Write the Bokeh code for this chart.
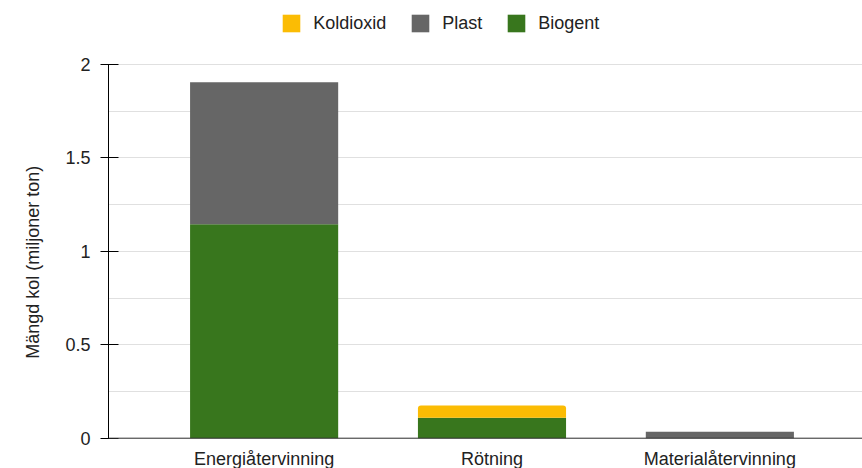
from bokeh.plotting import figure
from bokeh.models import (ColumnDataSource, SingleIntervalTicker, Legend,
                          LegendItem, Range1d, Span, Title)
from bokeh.core.properties import value
from bokeh.embed import file_html
from bokeh.resources import INLINE

# Carbon quantity per treatment route (million tonnes)
categories = ["Energiåtervinning", "Rötning", "Materialåtervinning"]
biogent = [1.145, 0.11, 0.0]
plast = [0.76, 0.0, 0.035]
koldioxid = [0.0, 0.065, 0.0]

FONT = "Liberation Sans"
TEXT = "#222222"
C_BIO = "#38761d"
C_PLAST = "#666666"
C_CO2 = "#fbbc04"

xs = list(range(len(categories)))
b0 = [0.0] * len(xs)
b1 = [b + p for b, p in zip(biogent, plast)]
b2 = [t + k for t, k in zip(b1, koldioxid)]

src = ColumnDataSource(dict(x=xs, bio_top=biogent, pl_bot=biogent, pl_top=b1,
                            co_bot=b1, co_top=b2, base=b0, name=categories))

p = figure(width=862, height=468, output_backend="svg", toolbar_location=None,
           x_range=Range1d(-0.683, 2.626), y_range=Range1d(-0.1622, 2.3425),
           min_border_left=108, min_border_right=0, min_border_top=0,
           min_border_bottom=0, x_axis_location=None)
p.outline_line_color = None
p.background_fill_color = "white"
p.border_fill_color = "white"

p.xgrid.grid_line_color = None
p.ygrid.grid_line_color = "#e0e0e0"
p.ygrid.minor_grid_line_color = "#e0e0e0"
p.ygrid.bounds = (0, 2)

W = 0.65
r_bio = p.vbar(x="x", bottom="base", top="bio_top", width=W, source=src,
               fill_color=C_BIO, line_color=None)
r_pl = p.vbar(x="x", bottom="pl_bot", top="pl_top", width=W, source=src,
              fill_color=C_PLAST, line_color=None)
r_co = p.vbar(x="x", bottom="co_bot", top="co_top", width=W, source=src,
              fill_color=C_CO2, line_color=None, border_radius=(3, 3, 0, 0))

# zero line and category names under each stack
p.add_layout(Span(location=0, dimension="width", line_color="#333333",
                  line_width=1))
p.text(x="x", y="base", text="name", source=src, y_offset=21,
       text_align="center", text_baseline="alphabetic",
       text_font=value(FONT), text_font_size="18px", text_color=TEXT)

p.yaxis.ticker = SingleIntervalTicker(interval=0.5, num_minor_ticks=2)
p.yaxis.bounds = (0, 2)
p.yaxis.major_label_overrides = {0: "0", 0.5: "0.5", 1: "1", 1.5: "1.5", 2: "2"}
p.yaxis.axis_line_color = "black"
p.yaxis.major_tick_line_color = "black"
p.yaxis.major_tick_in = 10
p.yaxis.major_tick_out = 8
p.yaxis.minor_tick_line_color = None
p.yaxis.major_label_standoff = 10
p.yaxis.major_label_text_font = FONT
p.yaxis.major_label_text_font_size = "18px"
p.yaxis.major_label_text_color = TEXT

# value-axis caption, placed along the 0..2 span of the axis
p.add_layout(Title(text="Mängd kol (miljoner ton)", align="left", offset=109.7,
                   vertical_align="middle", standoff=38, text_font=FONT,
                   text_font_size="18px", text_font_style="normal",
                   text_color=TEXT), "left")

# legend swatches: bar glyphs are drawn at 80% of the glyph box
legend = Legend(items=[LegendItem(label="Koldioxid", renderers=[r_co]),
                       LegendItem(label="Plast", renderers=[r_pl]),
                       LegendItem(label="Biogent", renderers=[r_bio])],
                orientation="horizontal", location=(172.15, 433.75),
                glyph_width=22, glyph_height=22, label_standoff=11,
                spacing=23, padding=0, margin=0, border_line_color=None,
                background_fill_alpha=0, label_text_font=FONT,
                label_text_font_size="18px", label_text_color=TEXT,
                label_height=22)
p.add_layout(legend, "center")

open("out.html", "w").write(file_html(p, INLINE))
